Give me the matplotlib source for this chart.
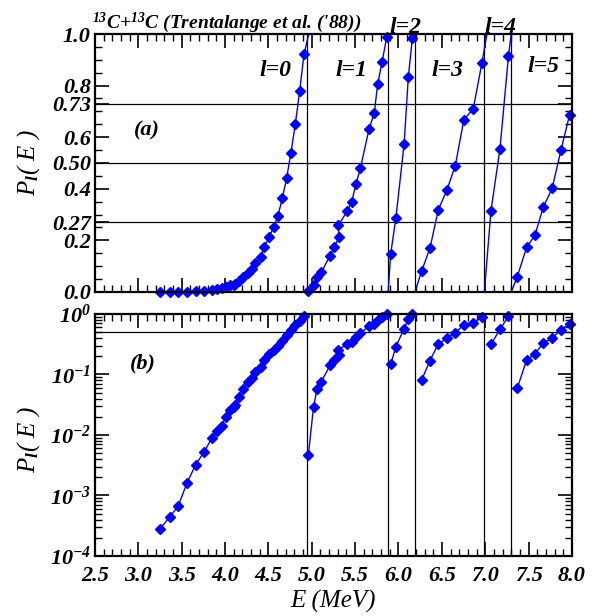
import matplotlib
matplotlib.use("Agg")
import matplotlib.pyplot as plt
from matplotlib.ticker import MultipleLocator, FixedLocator, FixedFormatter, LogLocator, NullFormatter

plt.rcParams['font.family'] = ['Liberation Serif', 'DejaVu Serif']
plt.rcParams['font.weight'] = 'bold'
plt.rcParams['font.style'] = 'italic'
plt.rcParams['mathtext.fontset'] = 'custom'
plt.rcParams['mathtext.rm'] = 'Liberation Serif:bold:italic'
plt.rcParams['mathtext.it'] = 'Liberation Serif:bold:italic'
plt.rcParams['mathtext.bf'] = 'Liberation Serif:bold:italic'

# transmission probabilities
E_l0 = [3.25, 3.36, 3.46, 3.56, 3.66, 3.76, 3.85, 3.91, 3.96, 4.01, 4.06, 4.10, 4.12,
        4.16, 4.21, 4.26, 4.31, 4.35, 4.41, 4.45, 4.51, 4.56, 4.61, 4.66, 4.71, 4.76,
        4.81, 4.86, 4.91]
P_l0 = [2.8e-4, 4.4e-4, 6.7e-4, 1.6e-3, 3.2e-3, 5.3e-3, 9.0e-3, 0.0115, 0.0143, 0.020,
        0.026, 0.029, 0.031, 0.042, 0.057, 0.075, 0.089, 0.111, 0.134, 0.173, 0.214,
        0.251, 0.295, 0.363, 0.442, 0.540, 0.650, 0.778, 0.921]
E_l1 = [4.96, 5.02, 5.06, 5.11, 5.21, 5.26, 5.315, 5.305, 5.41, 5.46, 5.51, 5.56, 5.66,
        5.72, 5.76, 5.81, 5.865]
P_l1 = [0.0046, 0.029, 0.057, 0.076, 0.141, 0.174, 0.213, 0.258, 0.314, 0.350, 0.418,
        0.479, 0.631, 0.693, 0.806, 0.890, 0.99]
E_l2 = [5.91, 5.97, 6.065, 6.113, 6.16]
P_l2 = [0.148, 0.287, 0.575, 0.832, 0.985]
E_l3 = [6.267, 6.363, 6.458, 6.558, 6.655, 6.754, 6.862, 6.962]
P_l3 = [0.081, 0.170, 0.318, 0.395, 0.490, 0.668, 0.710, 0.888]
E_l4 = [7.066, 7.17, 7.268]
P_l4 = [0.314, 0.555, 0.915]
E_l5 = [7.369, 7.477, 7.573, 7.669, 7.773, 7.873, 7.972]
P_l5 = [0.059, 0.173, 0.220, 0.328, 0.403, 0.550, 0.685]

E_all = [E_l0, E_l1, E_l2, E_l3, E_l4, E_l5]
P_all = [P_l0, P_l1, P_l2, P_l3, P_l4, P_l5]

# where each curve starts from 0 and where it leaves the top of the panel
E_start = [None, 4.95, 5.88, 6.19, 6.99, 7.30]
E_end = [4.965, 5.88, 6.175, 7.02, 7.30, None]

thresholds = [4.95, 5.88, 6.19, 6.99, 7.30]
p_lines = [0.27, 0.50, 0.73]

l_names = ['l=0', 'l=1', 'l=2', 'l=3', 'l=4', 'l=5']
l_pos = [(4.58, 0.86), (5.46, 0.86), (6.08, 1.025), (6.57, 0.86), (7.18, 1.025), (7.67, 0.875)]

yt_vals = [0.0, 0.2, 0.27, 0.4, 0.5, 0.6, 0.73, 0.8, 1.0]
yt_labels = ['0.0', '0.2', '0.27', '0.4', '0.50', '0.6', '0.73', '0.8', '1.0']
log_vals = [1e-4, 1e-3, 1e-2, 1e-1, 1e0]
log_labels = ['$10^{-4}$', '$10^{-3}$', '$10^{-2}$', '$10^{-1}$', '$10^{0}$']
xt_vals = [2.5, 3.0, 3.5, 4.0, 4.5, 5.0, 5.5, 6.0, 6.5, 7.0, 7.5, 8.0]
xt_labels = ['2.5', '3.0', '3.5', '4.0', '4.5', '5.0', '5.5', '6.0', '6.5', '7.0', '7.5', '8.0']

blue = '#0000ff'
fig = plt.figure(figsize=(6.08, 6.16), dpi=100)
ax1 = fig.add_axes([0.1562, 0.526, 0.7845, 0.4188])
ax2 = fig.add_axes([0.1562, 0.0974, 0.7845, 0.3929])

for E, P, s, e in zip(E_all, P_all, E_start, E_end):
    xs, ys = list(E), list(P)
    if e is not None:
        xs, ys = xs + [e], ys + [1.0]
    ax2.plot(xs, ys, color=blue, lw=1)
    ax2.plot(E, P, 'D', color=blue, ms=5.5, clip_on=False)
    if s is not None:
        xs, ys = [s] + xs, [0.0] + ys
    ax1.plot(xs, ys, color=blue, lw=1)
    ax1.plot(E, P, 'D', color=blue, ms=5.5, clip_on=False)

for ax in (ax1, ax2):
    for t in thresholds:
        ax.axvline(t, color='black', lw=0.9, zorder=1)
for p in p_lines:
    ax1.axhline(p, color='black', lw=0.9, zorder=1)
ax2.axhline(0.5, color='black', lw=0.9, zorder=1)

ax1.set_xlim(2.5, 8.0)
ax1.set_ylim(0, 1.0)
ax2.set_xlim(2.5, 8.0)
ax2.set_yscale('log')
ax2.set_ylim(1e-4, 1.0)

for ax in (ax1, ax2):
    ax.xaxis.set_major_locator(MultipleLocator(0.5))
    ax.xaxis.set_minor_locator(MultipleLocator(0.1))
    ax.tick_params(which='both', direction='in', top=True, right=True, labelsize=16, pad=3)
    ax.tick_params(which='major', length=10, width=1.2)
    ax.tick_params(which='minor', length=5, width=1)
    for sp in ax.spines.values():
        sp.set_linewidth(1.6)

ax1.yaxis.set_major_locator(FixedLocator(yt_vals))
ax1.yaxis.set_major_formatter(FixedFormatter(yt_labels))
ax1.yaxis.set_minor_locator(MultipleLocator(0.05))
ax1.tick_params(labelbottom=False)

ax2.yaxis.set_major_locator(FixedLocator(log_vals))
ax2.yaxis.set_major_formatter(FixedFormatter(log_labels))
ax2.yaxis.set_minor_locator(LogLocator(base=10, subs=range(2, 10)))
ax2.yaxis.set_minor_formatter(NullFormatter())
ax2.set_xticks(xt_vals)
ax2.set_xticklabels(xt_labels)
ax2.tick_params(axis='x', pad=7)

ax1.set_ylabel('P$_l$( E )', fontsize=18)
ax2.set_ylabel('P$_l$( E )', fontsize=18)
ax1.yaxis.set_label_coords(-0.112, 0.5)
ax2.yaxis.set_label_coords(-0.112, 0.48)
ax2.set_xlabel('E (MeV)', fontsize=18, labelpad=3)

for name, (x, y) in zip(l_names, l_pos):
    ax1.text(x, y, name, fontsize=17, ha='center', va='center')

ax1.text(3.1, 0.625, '(a)', fontsize=16, ha='center', va='center')
ax2.text(3.05, 0.15, '(b)', fontsize=16, ha='center', va='center')

fig.text(0.151, 0.955, "$^{13}$C+$^{13}$C (Trentalange et al. ('88))", fontsize=14,
         ha='left', va='baseline')

fig.savefig('out.png', dpi=100)
